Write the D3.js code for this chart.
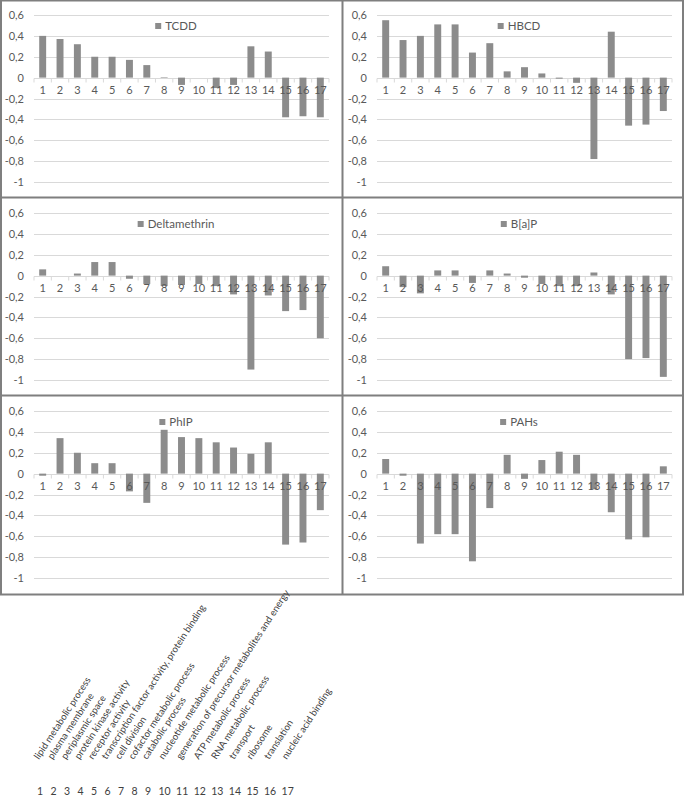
<!DOCTYPE html>
<html>
<head>
<meta charset="utf-8">
<script src="https://cdn.jsdelivr.net/npm/d3@7"></script>
<style>
  body { margin: 0; background: #fff; }
  text { font-family: Lato, "Open Sans", sans-serif; }
</style>
</head>
<body>
<svg width="685" height="798"></svg>
<script>
// categories 1..17 and what they stand for
var categories = ["1", "2", "3", "4", "5", "6", "7", "8", "9", "10", "11", "12", "13", "14", "15", "16", "17"];
var categoryNames = [
  "lipid metabolic process", "plasma membrane", "periplasmic space", "protein kinase activity",
  "receptor activity", "transcription factor activity, protein binding", "cell division",
  "cofactor metabolic process", "catabolic process", "nucleotide metabolic process",
  "generation of precursor metabolites and energy", "ATP metabolic process",
  "RNA metabolic process", "transport", "ribosome", "translation", "nucleic acid binding"
];
var yTicks = [0.6, 0.4, 0.2, 0, -0.2, -0.4, -0.6, -0.8, -1];

// one series per panel
var tcdd         = [0.40, 0.37, 0.32, 0.20, 0.20, 0.17, 0.12, 0.005, -0.07, 0, -0.10, -0.07, 0.30, 0.25, -0.38, -0.37, -0.38];
var hbcd         = [0.55, 0.36, 0.40, 0.51, 0.51, 0.24, 0.33, 0.06, 0.10, 0.04, -0.01, -0.05, -0.78, 0.44, -0.46, -0.45, -0.32];
var deltamethrin = [0.06, 0, 0.02, 0.13, 0.13, -0.03, -0.08, -0.10, -0.09, -0.08, -0.10, -0.18, -0.90, -0.19, -0.34, -0.33, -0.60];
var bap          = [0.09, -0.11, -0.17, 0.05, 0.05, -0.07, 0.05, 0.02, -0.02, -0.08, -0.10, -0.10, 0.03, -0.18, -0.80, -0.79, -0.97];
var phip         = [-0.02, 0.34, 0.20, 0.10, 0.10, -0.17, -0.28, 0.42, 0.35, 0.34, 0.30, 0.25, 0.19, 0.30, -0.68, -0.66, -0.35];
var pahs         = [0.14, -0.02, -0.67, -0.58, -0.58, -0.84, -0.33, 0.18, -0.05, 0.13, 0.21, 0.18, -0.15, -0.37, -0.63, -0.61, 0.07];

var panels = [
  { name: "TCDD", values: tcdd },
  { name: "HBCD", values: hbcd },
  { name: "Deltamethrin", values: deltamethrin },
  { name: "B[a]P", values: bap },
  { name: "PhIP", values: phip },
  { name: "PAHs", values: pahs }
];

var svg = d3.select("svg");
var panelW = 343, panelH = 198;
var barColor = "#8c8c8c", gridColor = "#d9d9d9", textColor = "#595959", frameColor = "#7f7f7f";

var x = d3.scaleBand().domain(categories).range([34, 329]).paddingInner(0.6).paddingOuter(0.3);
var y = d3.scaleLinear().domain([-1, 0.6]).range([182, 15]);
var step = x.step();
var fmt = function(d) { return String(d).replace(".", ","); };

panels.forEach(function(p, i) {
  var g = svg.append("g")
    .attr("transform", "translate(" + (i % 2) * panelW + "," + Math.floor(i / 2) * panelH + ")");

  // gridlines
  g.selectAll(".grid")
    .data(yTicks)
    .enter().append("line")
    .attr("class", "grid")
    .attr("x1", 34).attr("x2", 329)
    .attr("y1", function(d) { return Math.round(y(d)) + 0.5; })
    .attr("y2", function(d) { return Math.round(y(d)) + 0.5; })
    .attr("stroke", gridColor);

  // bars
  g.selectAll(".bar")
    .data(p.values)
    .enter().append("rect")
    .attr("class", "bar")
    .attr("x", function(d, j) { return x(categories[j]); })
    .attr("width", x.bandwidth())
    .attr("y", function(d) { return y(Math.max(0, d)); })
    .attr("height", function(d) { return Math.abs(y(d) - y(0)); })
    .attr("fill", barColor);

  // small ticks between categories on the zero line
  var zy = Math.round(y(0)) + 0.5;
  g.selectAll(".tick-mark")
    .data(categories.concat(["end"]))
    .enter().append("line")
    .attr("x1", function(d, j) { return 34 + j * step; })
    .attr("x2", function(d, j) { return 34 + j * step; })
    .attr("y1", zy).attr("y2", zy + 4)
    .attr("stroke", gridColor);

  // y axis labels
  var ya = g.append("g")
    .attr("transform", "translate(34,0)")
    .call(d3.axisLeft(y).tickValues(yTicks).tickSize(0).tickPadding(10).tickFormat(fmt));
  ya.select(".domain").remove();
  ya.selectAll("text").attr("fill", textColor).style("font-size", "11px").style("font-family", "Lato, sans-serif");

  // category numbers next to the zero line
  var xa = g.append("g")
    .attr("transform", "translate(0," + y(0) + ")")
    .call(d3.axisBottom(x).tickSize(0).tickPadding(9));
  xa.select(".domain").remove();
  xa.selectAll("text").attr("fill", textColor).style("font-size", "11px").style("font-family", "Lato, sans-serif");

  // legend
  var lg = g.append("g");
  var lt = lg.append("text")
    .attr("x", 10).attr("y", 0).attr("dy", "0.35em")
    .attr("fill", textColor).style("font-size", "11.5px")
    .text(p.name);
  var tw = lt.node().getComputedTextLength();
  lg.append("rect")
    .attr("x", 0).attr("y", -3).attr("width", 6).attr("height", 6)
    .attr("fill", barColor);
  lg.attr("transform", "translate(" + (176 - (10 + tw) / 2) + "," + (y(0.6) + 11) + ")");
});

// frame around the panels
svg.append("rect")
  .attr("x", 1).attr("y", 0.5).attr("width", 682).attr("height", 594)
  .attr("fill", "none").attr("stroke", frameColor).attr("stroke-width", 2);
svg.append("line")
  .attr("x1", 342.5).attr("x2", 342.5).attr("y1", 0).attr("y2", 595)
  .attr("stroke", frameColor).attr("stroke-width", 2);
[1, 2].forEach(function(r) {
  svg.append("line")
    .attr("x1", 0).attr("x2", 684).attr("y1", r * panelH - 0.5).attr("y2", r * panelH - 0.5)
    .attr("stroke", frameColor).attr("stroke-width", 2);
});

// key below the panels: numbers in a row, names rotated above them
var key = svg.append("g").attr("fill", "#404040");
var cx = 37, centers = [];
categories.forEach(function(c) {
  var t = key.append("text").attr("x", cx).attr("y", 795).style("font-size", "10.5px").text(c);
  var w = t.node().getComputedTextLength();
  centers.push(cx + w / 2);
  cx += w + Math.max(5.4, 13.5 - w);
});
key.selectAll(".name")
  .data(categoryNames)
  .enter().append("text")
  .attr("class", "name")
  .style("font-size", "9.6px")
  .attr("transform", function(d, j) { return "translate(" + (centers[j] - 1) + ",760) rotate(-57)"; })
  .text(function(d) { return d; });
</script>
</body>
</html>
